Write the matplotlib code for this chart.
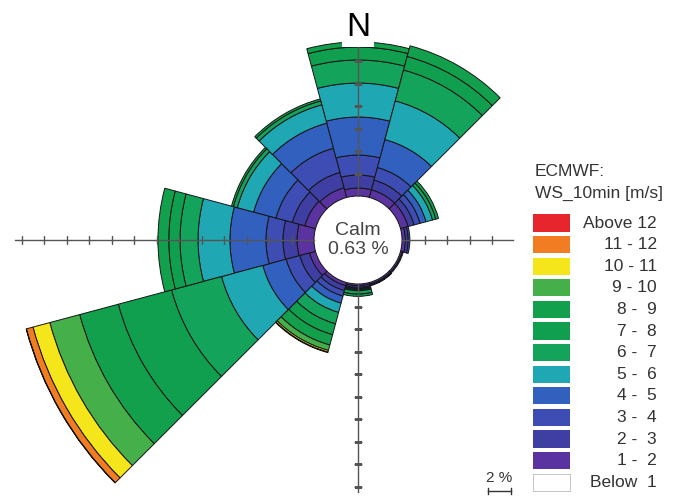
import numpy as np
import matplotlib
matplotlib.use("Agg")
import matplotlib.pyplot as plt

plt.rcParams["font.family"] = ["Liberation Sans", "DejaVu Sans"]

# Wind rose: frequency (%) per direction sector and wind speed class
directions = ["N", "NNE", "ENE", "E", "ESE", "SSE", "S", "SSW", "WSW", "W", "WNW", "NW"]
sector_deg = [0, 30, 60, 90, 120, 150, 180, 210, 240, 270, 300, 330]

ws_1_2 = [0.71, 0.71, 0.70, 0.30, 0.15, 0.15, 0.15, 0.30, 0.55, 1.51, 0.98, 0.89]
ws_2_3 = [1.16, 0.89, 0.55, 0.25, 0.10, 0.10, 0.15, 0.45, 0.90, 1.25, 1.15, 1.42]
ws_3_4 = [1.77, 1.16, 0.55, 0.15, 0.00, 0.05, 0.10, 0.50, 1.25, 1.51, 1.51, 2.22]
ws_4_5 = [3.38, 2.57, 0.55, 0.00, 0.00, 0.00, 0.10, 0.65, 2.15, 3.20, 2.05, 2.31]
ws_5_6 = [3.02, 3.56, 0.60, 0.00, 0.00, 0.00, 0.10, 0.85, 3.80, 2.84, 1.51, 1.69]
ws_6_7 = [2.05, 2.84, 0.30, 0.00, 0.00, 0.00, 0.30, 1.05, 4.60, 1.60, 0.36, 0.36]
ws_7_8 = [1.15, 1.25, 0.25, 0.00, 0.00, 0.00, 0.20, 1.00, 4.90, 1.00, 0.17, 0.18]
ws_8_9 = [0.45, 0.98, 0.00, 0.00, 0.00, 0.00, 0.00, 0.95, 3.55, 0.96, 0.00, 0.00]
ws_9_10 = [0.00, 0.00, 0.00, 0.00, 0.00, 0.00, 0.00, 0.50, 2.75, 0.00, 0.00, 0.00]
ws_10_11 = [0.00, 0.00, 0.00, 0.00, 0.00, 0.00, 0.00, 0.15, 1.55, 0.00, 0.00, 0.00]
ws_11_12 = [0.00, 0.00, 0.00, 0.00, 0.00, 0.00, 0.00, 0.05, 0.60, 0.00, 0.00, 0.00]
ws_above_12 = [0.00, 0.00, 0.00, 0.00, 0.00, 0.00, 0.00, 0.00, 0.03, 0.00, 0.00, 0.00]

calm_pct = 0.63

class_labels = ["Below  1", "1 -  2", "2 -  3", "3 -  4", "4 -  5", "5 -  6", "6 -  7",
                "7 -  8", "8 -  9", "9 - 10", "10 - 11", "11 - 12", "Above 12"]
class_colors = ["#ffffff", "#5a33a0", "#3f3ea2", "#3d4db3", "#3160bf", "#1fa7b3",
                "#14a35b", "#0f9f4e", "#12a04c", "#45b04a", "#f5e61c", "#f27c21", "#e6262c"]

speed_rows = [ws_1_2, ws_2_3, ws_3_4, ws_4_5, ws_5_6, ws_6_7, ws_7_8,
              ws_8_9, ws_9_10, ws_10_11, ws_11_12, ws_above_12]

# half-axis lengths (%) of the cross: up, right, down, left
axis_len = [13.6, 9.9, 18.5, 26.6]

# layout in pixels
W, H, DPI = 682, 499, 100
cx, cy = 358, 240
px_per_pct = 11.25
calm_r = 44 / px_per_pct
rlim = 31

fig = plt.figure(figsize=(W / DPI, H / DPI), dpi=DPI)
fig.patch.set_facecolor("white")

rad = rlim * px_per_pct
ax = fig.add_axes([(cx - rad) / W, (H - cy - rad) / H, 2 * rad / W, 2 * rad / H],
                  projection="polar")
ax.set_theta_zero_location("N")
ax.set_theta_direction(-1)
ax.set_ylim(0, rlim)
ax.set_axis_off()

theta = np.deg2rad(sector_deg)
width = np.deg2rad(30)
base = np.full(len(directions), calm_r)
for row, color in zip(speed_rows, class_colors[1:]):
    vals = np.array(row)
    m = vals > 0
    ax.bar(theta[m], vals[m], width=width, bottom=base[m], color=color,
           edgecolor="#151515", linewidth=0.7, zorder=2)
    base = base + vals

# cross with 2 % ticks
for ang, length in zip([0, 90, 180, 270], axis_len):
    t = np.deg2rad(ang)
    ax.plot([t, t], [calm_r, calm_r + length], color="#555555", lw=1.0, zorder=3)
    ticks = calm_r + np.arange(2, length + 0.01, 2)
    mk = "_" if ang in (0, 180) else "|"
    ax.plot(np.full(len(ticks), t), ticks, ls="none", marker=mk, ms=6, mew=1.0,
            color="#555555", zorder=3)

ax.text(0, 0, f"Calm\n{calm_pct:.2f} %", ha="center", va="center", fontsize=14,
        color="#444444", linespacing=1.1, zorder=4)
ax.text(0, calm_r + 14.2, "N", ha="center", va="baseline", fontsize=24, color="black",
        zorder=5, bbox=dict(boxstyle="square,pad=0.12", fc="white", ec="none"))

# legend
fig.text(535 / W, 1 - 172 / H, "ECMWF:", ha="left", va="center", fontsize=12.5, color="#333333")
fig.text(535 / W, 1 - 193 / H, "WS_10min [m/s]", ha="left", va="center", fontsize=12.5,
         color="#333333")

pitch = 21.6
top_c, n_cls = 223, len(class_labels)
bot_c = top_c + pitch * (n_cls - 1)
lax = fig.add_axes([520 / W, 1 - (bot_c + pitch / 2) / H, 162 / W, pitch * n_cls / H])
lax.set_xlim(0, 162)
lax.set_ylim(-0.5, n_cls - 0.5)
lax.set_axis_off()
idx = np.arange(n_cls)
edges = ["#bbbbbb"] + ["none"] * (n_cls - 1)
lax.barh(idx, 37, left=13, height=0.8, color=class_colors, edgecolor=edges, linewidth=0.6)
for i, lab in zip(idx, class_labels):
    lax.text(137, i, lab, ha="right", va="center", fontsize=12.5, color="#333333")

# 2 % scale bar
x0, yb = 488, 491
fig.text((x0 + px_per_pct) / W, 1 - 478 / H, "2 %", ha="center", va="center",
         fontsize=11, color="#333333")
fig.add_artist(plt.Line2D([x0 / W, (x0 + 2 * px_per_pct) / W], [1 - yb / H, 1 - yb / H],
                          color="#333333", lw=1.0))
for xe in (x0, x0 + 2 * px_per_pct):
    fig.add_artist(plt.Line2D([xe / W, xe / W], [1 - (yb - 3) / H, 1 - (yb + 3) / H],
                              color="#333333", lw=1.0))

fig.savefig("out.png", dpi=DPI)
